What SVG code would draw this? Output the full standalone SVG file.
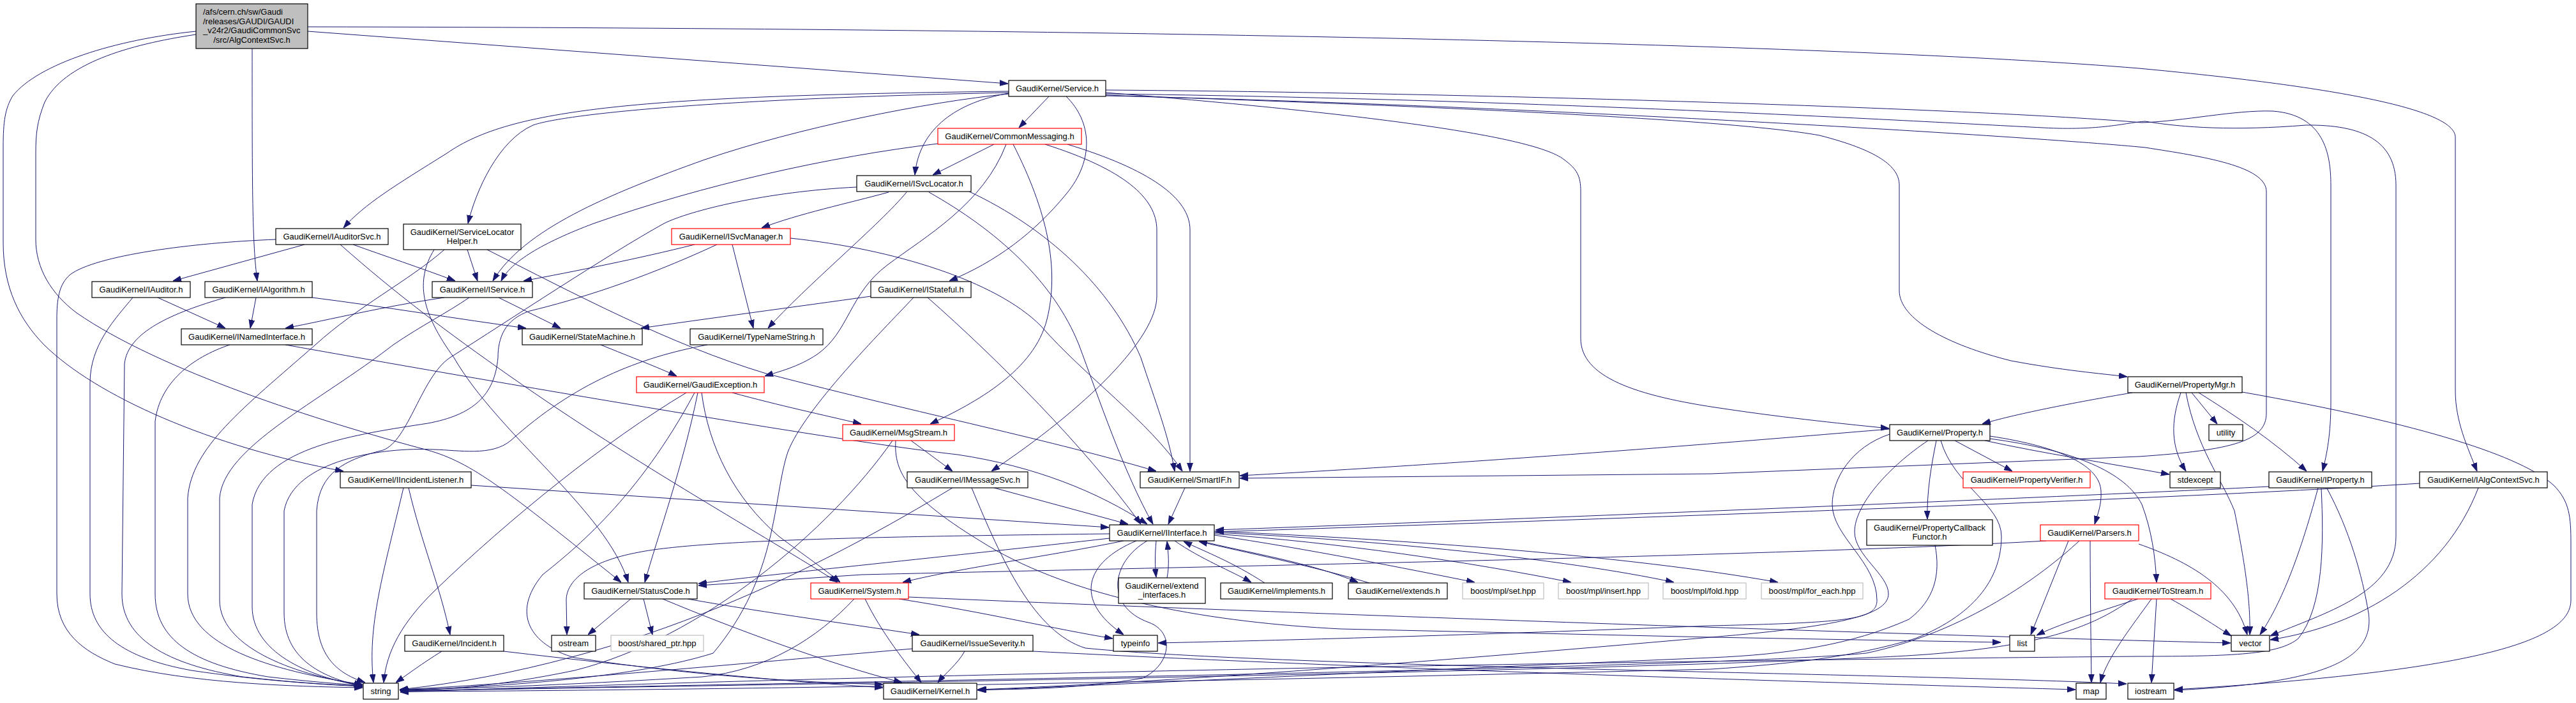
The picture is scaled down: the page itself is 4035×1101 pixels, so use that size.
<svg xmlns="http://www.w3.org/2000/svg" width="4035" height="1101" viewBox="0 0 4035 1101">
<style>
.n rect{fill:#fff;stroke:#000;stroke-width:1.2}
.r rect{fill:#fff;stroke:#ff0000;stroke-width:1.2}
.g rect{fill:#fff;stroke:#bfbfbf;stroke-width:1.2}
.root rect{fill:#bfbfbf;stroke:#000;stroke-width:1.2}
text{font-family:"Liberation Sans",Arial,Helvetica,sans-serif;font-size:13px;fill:#000;text-anchor:middle}
.e path{fill:none;stroke:#191970;stroke-width:1;marker-end:url(#ah)}
</style>
<defs>
<marker id="ah" markerWidth="13" markerHeight="10" refX="13" refY="5" orient="auto" markerUnits="userSpaceOnUse"><path d="M0,0.6 L13,5 L0,9.4 Z" fill="#191970" stroke="#191970" stroke-width="1"/></marker>
</defs>
<rect x="0" y="0" width="4035" height="1101" fill="#fff"/>
<g id="connectors" class="e">
<path d="M482,49 L1579,131"/>
<path d="M482,42 C1800,44 2900,70 3350,107 C3650,135 3846,170 3846,215 L3846,612 C3846,660 3865,700 3880,738"/>
<path d="M395,76 C395,300 395,380 403,440"/>
<path d="M307,49 C180,62 60,100 20,150 C8,170 5,190 5,230 L5,380 C5,450 30,500 69,540 C150,620 330,700 538,738"/>
<path d="M307,54 C200,70 100,100 70,160 C58,190 56,210 56,240 L56,375 C56,420 80,460 120,490 C250,580 500,660 670,705 C740,725 790,765 973,912"/>
<path d="M1643,151 L1596,200"/>
<path d="M1580,146 C1500,160 1440,200 1433,274"/>
<path d="M1670,151 C1710,190 1715,250 1670,304 C1620,365 1560,410 1487,440"/>
<path d="M1580,143 C1000,150 800,170 700,240 C620,290 570,320 538,357"/>
<path d="M1580,145 C1100,155 880,180 835,196 C780,220 745,300 733,350"/>
<path d="M1580,147 C1450,160 1250,200 1104,250 C950,305 820,360 772,440"/>
<path d="M1732,145 C2100,175 2400,210 2450,250 C2470,265 2476,275 2476,300 L2476,530 C2476,590 2560,620 2700,640 C2800,655 2900,665 2959,671"/>
<path d="M1732,149 C2200,165 2700,185 2850,212 C2940,235 2975,260 2975,290 L2975,455 C2975,500 3050,540 3150,565 C3230,580 3290,585 3332,590"/>
<path d="M1732,141 C2300,145 3100,170 3355,192 C3420,190 3500,172 3560,174 C3640,180 3651,240 3651,290 L3651,630 C3651,680 3645,710 3638,738"/>
<path d="M1732,147 C2400,155 3000,190 3200,200 C3290,205 3330,192 3360,190 C3420,200 3500,205 3612,196 C3700,195 3753,220 3753,290 L3753,840 C3753,930 3640,960 3556,996"/>
<path d="M1732,150 C2400,165 3200,215 3360,231 C3450,245 3550,260 3550,300 L3550,647 C3550,690 3500,705 3350,715 L2680,742 L1942,749"/>
<path d="M1557,226 L1461,274"/>
<path d="M1469,225 C1300,245 1100,290 930,350 C850,380 800,410 785,440"/>
<path d="M1587,226 C1640,330 1660,420 1640,500 C1620,580 1530,630 1457,664"/>
<path d="M1576,226 C1540,320 1450,370 1390,415 C1330,460 1330,520 1280,555 C1250,575 1220,582 1198,589"/>
<path d="M1637,226 C1760,265 1812,310 1812,360 L1812,464 C1812,530 1700,640 1553,738"/>
<path d="M1672,226 C1800,265 1864,310 1864,360 L1864,738"/>
<path d="M1392,301 C1330,318 1250,335 1193,357"/>
<path d="M1420,301 C1380,350 1260,450 1203,514"/>
<path d="M1455,301 C1560,360 1650,440 1690,540 C1720,620 1760,740 1806,821"/>
<path d="M1342,293 C1200,300 1080,330 1040,350 C950,400 800,500 705,560 C660,590 640,690 600,705 C540,720 500,740 496,800 L496,960 C496,1030 530,1055 572,1069"/>
<path d="M1518,300 C1640,357 1740,450 1787,560 C1810,630 1830,680 1840,738"/>
<path d="M477,383 L271,440"/>
<path d="M553,383 C600,400 660,420 713,440"/>
<path d="M432,375 C300,380 150,400 110,430 C92,445 89,470 89,500 L89,930 C89,990 130,1020 180,1040 C300,1070 450,1075 568,1077"/>
<path d="M533,383 C620,460 700,520 800,590 C1000,730 1200,840 1312,912"/>
<path d="M732,391 L748,440"/>
<path d="M696,391 C640,440 560,480 494,540 C380,640 300,700 294,780 L294,930 C294,1010 420,1050 568,1072"/>
<path d="M680,391 C650,440 660,490 711,560 C780,680 950,800 984,912"/>
<path d="M763,391 C900,460 1050,540 1200,585 C1450,650 1650,690 1811,738"/>
<path d="M1088,383 C1000,405 900,425 820,440"/>
<path d="M1123,383 C1000,440 900,470 830,487 C790,500 780,530 780,560 C775,620 740,650 670,663 C560,680 410,700 395,790 L395,950 C395,1020 480,1060 568,1074"/>
<path d="M1147,383 L1180,514"/>
<path d="M1238,373 C1400,390 1560,440 1630,510 C1700,590 1800,660 1852,738"/>
<path d="M247,466 L353,514"/>
<path d="M208,466 C180,500 141,540 141,600 L141,930 C141,990 190,1030 300,1050 C400,1065 500,1072 568,1075"/>
<path d="M401,466 L392,514"/>
<path d="M353,466 C270,490 200,520 195,570 L191,930 C191,1000 260,1040 380,1060 C470,1070 530,1073 568,1074"/>
<path d="M489,466 C600,480 720,500 824,514"/>
<path d="M696,466 C600,480 520,500 447,514"/>
<path d="M781,466 L878,514"/>
<path d="M735,466 C700,490 660,510 616,540 C500,630 350,700 344,780 L344,940 C344,1010 450,1055 568,1073"/>
<path d="M1364,464 C1250,480 1100,500 1004,514"/>
<path d="M1453,466 C1560,560 1700,700 1787,821"/>
<path d="M1431,466 C1380,520 1260,640 1234,708 C1210,780 1220,900 1117,1023 C1000,1060 800,1075 626,1081"/>
<path d="M360,540 C300,560 250,600 243,660 L243,930 C243,1000 300,1040 420,1060 C490,1068 540,1072 568,1073"/>
<path d="M447,540 C700,585 1300,690 1500,712 C1620,730 1720,770 1797,821"/>
<path d="M941,540 C990,560 1030,575 1060,589"/>
<path d="M1108,540 C1000,560 900,600 800,690 C770,715 720,705 680,704 C600,700 460,720 445,800 L445,960 C445,1030 500,1060 568,1075"/>
<path d="M1147,615 C1220,635 1290,650 1349,664"/>
<path d="M1093,615 C1070,730 1030,840 1010,912"/>
<path d="M1099,615 C1110,700 1150,780 1220,840 C1260,870 1290,890 1316,912"/>
<path d="M1075,615 C950,690 800,810 680,926 C630,975 605,1020 601,1069"/>
<path d="M1088,615 C1000,780 900,860 850,900 C800,960 830,1010 900,1030 C1100,1060 1250,1068 1383,1072"/>
<path d="M1427,690 L1492,738"/>
<path d="M1398,690 C1300,830 1100,1000 900,1050 C780,1075 700,1080 626,1081"/>
<path d="M1403,690 C1400,740 1420,780 1560,862 C1700,940 1900,975 2100,985 L2680,998 L3134,1006"/>
<path d="M632,764 C600,900 575,980 585,1069"/>
<path d="M640,764 C660,850 690,920 705,994"/>
<path d="M738,760 L1737,826"/>
<path d="M1557,764 L1767,821"/>
<path d="M1492,764 C1300,880 1000,1040 626,1080"/>
<path d="M1522,764 C1570,880 1620,990 1700,1015 C2000,1045 3000,1055 3331,1071"/>
<path d="M1856,764 L1830,821"/>
<path d="M1811,847 C1809,870 1809,885 1811,904"/>
<path d="M1828,905 C1832,885 1830,865 1828,848"/>
<path d="M1840,847 C1880,875 1930,895 1960,912"/>
<path d="M1981,913 C1930,880 1890,865 1854,848"/>
<path d="M1880,847 C1950,865 2050,880 2127,912"/>
<path d="M2145,913 C2050,885 1950,865 1878,848"/>
<path d="M1902,838 C2050,860 2200,890 2310,912"/>
<path d="M1902,836 C2100,850 2300,880 2461,912"/>
<path d="M1902,834 C2150,845 2450,875 2622,912"/>
<path d="M1902,832 C2200,845 2550,870 2785,912"/>
<path d="M1780,847 C1700,880 1680,940 1760,994"/>
<path d="M1797,847 C1740,880 1730,950 1800,975 C1840,990 1835,1040 1790,1062 C1700,1078 1600,1080 1532,1080"/>
<path d="M1760,847 C1650,870 1500,890 1414,912"/>
<path d="M1738,843 C1500,870 1200,900 1094,914"/>
<path d="M1738,836 C1400,840 1100,845 1000,865 C920,880 887,910 887,940 L888,994"/>
<path d="M3554,762 C3300,775 2600,805 1904,830"/>
<path d="M3790,757 C3400,782 2600,810 1904,833"/>
<path d="M988,938 L921,994"/>
<path d="M1008,938 L1022,994"/>
<path d="M1077,938 C1200,960 1350,980 1440,994"/>
<path d="M1038,938 C1150,985 1300,1040 1413,1069"/>
<path d="M1355,938 C1380,990 1420,1040 1443,1069"/>
<path d="M1408,938 C1550,960 1650,985 1743,1000"/>
<path d="M1423,935 C2000,960 3000,995 3494,1007"/>
<path d="M1338,938 C1280,1000 1200,1050 1100,1060 C900,1072 750,1078 626,1080"/>
<path d="M1511,1020 C1500,1040 1480,1055 1469,1069"/>
<path d="M1618,1020 C2200,1050 2900,1070 3251,1080"/>
<path d="M1429,1016 C1100,1045 800,1072 626,1080"/>
<path d="M692,1020 C660,1040 640,1055 620,1069"/>
<path d="M789,1020 C1000,1045 1200,1065 1383,1077"/>
<path d="M2960,672 C2800,685 2400,720 1942,745"/>
<path d="M2960,680 C2900,700 2870,750 2870,790 C2870,840 2940,880 2940,940 C2940,970 2900,975 2680,980 C2300,995 2000,1003 1814,1007"/>
<path d="M3020,690 C2960,730 2905,790 2905,833 C2905,870 2958,900 2958,930 C2958,960 2900,980 2680,998 C2200,1040 1800,1070 1531,1080"/>
<path d="M3033,690 C3025,730 3018,770 3019,813"/>
<path d="M3040,690 C3060,760 3135,790 3135,840 C3135,900 3100,960 3000,1000 C2900,1030 2800,1040 2680,1048 C1800,1070 1000,1082 627,1083"/>
<path d="M3062,690 L3152,738"/>
<path d="M3109,690 C3200,710 3300,725 3398,743"/>
<path d="M3117,683 C3230,700 3290,730 3291,770 C3292,790 3286,805 3281,821"/>
<path d="M3117,687 C3250,705 3330,740 3355,790 C3370,830 3376,870 3378,912"/>
<path d="M3340,615 C3250,630 3150,650 3105,664"/>
<path d="M3416,615 C3400,660 3400,700 3424,738"/>
<path d="M3424,615 C3440,700 3480,750 3500,800 C3520,900 3525,950 3524,994"/>
<path d="M3433,615 L3473,664"/>
<path d="M3444,615 C3500,650 3560,690 3613,738"/>
<path d="M3512,614 C3800,665 3950,715 4000,760 C4025,785 4027,810 4027,850 L4027,940 C4027,1000 3900,1050 3406,1080"/>
<path d="M3631,764 C3600,880 3570,950 3540,994"/>
<path d="M3636,765 C3640,850 3640,950 3600,1000 C3570,1025 3500,1028 3350,1028 C2000,1040 1000,1070 627,1084"/>
<path d="M3645,765 C3680,830 3700,900 3710,960 C3720,1030 3650,1070 3406,1081"/>
<path d="M3882,764 C3830,900 3700,980 3556,1002"/>
<path d="M3031,854 C3040,900 3030,940 2990,970 C2900,1010 2800,1025 2680,1030 C2200,1050 1800,1070 1531,1081"/>
<path d="M3205,847 C2800,870 2000,885 1350,900 L1094,917"/>
<path d="M3240,847 L3181,994"/>
<path d="M3274,847 C3274,900 3275,1000 3276,1069"/>
<path d="M3350,852 C3430,880 3500,920 3520,994"/>
<path d="M3257,847 C3200,900 3080,990 2923,1023 C2700,1045 1500,1065 627,1082"/>
<path d="M3349,938 C3280,960 3220,980 3190,995"/>
<path d="M3370,938 C3340,980 3300,1030 3290,1069"/>
<path d="M3378,938 L3370,1069"/>
<path d="M3400,938 C3440,960 3470,980 3495,996"/>
<path d="M3340,938 C3280,980 3200,1020 2923,1030 C2500,1050 1500,1068 627,1082"/>
</g>
<g id="node-root" class="root"><rect x="307" y="6" width="175" height="70"/>
<text x="318" y="23" style="text-anchor:start">/afs/cern.ch/sw/Gaudi</text>
<text x="318" y="37.5" style="text-anchor:start">/releases/GAUDI/GAUDI</text>
<text x="318" y="52" style="text-anchor:start">_v24r2/GaudiCommonSvc</text>
<text x="394.5" y="67">/src/AlgContextSvc.h</text></g>
<g id="node-Service" class="n"><rect x="1580" y="126" width="152" height="25"/><text x="1656" y="143">GaudiKernel/Service.h</text></g>
<g id="node-CommonMessaging" class="r"><rect x="1469" y="201" width="225" height="25"/><text x="1581.5" y="218">GaudiKernel/CommonMessaging.h</text></g>
<g id="node-ISvcLocator" class="n"><rect x="1342" y="275" width="179" height="25"/><text x="1431.5" y="292">GaudiKernel/ISvcLocator.h</text></g>
<g id="node-IAuditorSvc" class="n"><rect x="432" y="358" width="176" height="25"/><text x="520" y="375">GaudiKernel/IAuditorSvc.h</text></g>
<g id="node-ServiceLocatorHelper" class="n"><rect x="632" y="351" width="184" height="40"/><text x="724" y="368">GaudiKernel/ServiceLocator</text><text x="724" y="382">Helper.h</text></g>
<g id="node-ISvcManager" class="r"><rect x="1052" y="358" width="186" height="25"/><text x="1145" y="375">GaudiKernel/ISvcManager.h</text></g>
<g id="node-IAuditor" class="n"><rect x="144" y="441" width="154" height="25"/><text x="221" y="458">GaudiKernel/IAuditor.h</text></g>
<g id="node-IAlgorithm" class="n"><rect x="321" y="441" width="168" height="25"/><text x="405" y="458">GaudiKernel/IAlgorithm.h</text></g>
<g id="node-IService" class="n"><rect x="677" y="441" width="157" height="25"/><text x="755.5" y="458">GaudiKernel/IService.h</text></g>
<g id="node-IStateful" class="n"><rect x="1364" y="441" width="157" height="25"/><text x="1442.5" y="458">GaudiKernel/IStateful.h</text></g>
<g id="node-INamedInterface" class="n"><rect x="284" y="515" width="205" height="25"/><text x="386.5" y="532">GaudiKernel/INamedInterface.h</text></g>
<g id="node-StateMachine" class="n"><rect x="818" y="515" width="188" height="25"/><text x="912" y="532">GaudiKernel/StateMachine.h</text></g>
<g id="node-TypeNameString" class="n"><rect x="1081" y="515" width="208" height="25"/><text x="1185" y="532">GaudiKernel/TypeNameString.h</text></g>
<g id="node-GaudiException" class="r"><rect x="997" y="590" width="200" height="25"/><text x="1097" y="607">GaudiKernel/GaudiException.h</text></g>
<g id="node-PropertyMgr" class="n"><rect x="3333" y="590" width="179" height="25"/><text x="3422.5" y="607">GaudiKernel/PropertyMgr.h</text></g>
<g id="node-MsgStream" class="r"><rect x="1320" y="665" width="175" height="25"/><text x="1407.5" y="682">GaudiKernel/MsgStream.h</text></g>
<g id="node-Property" class="n"><rect x="2960" y="665" width="157" height="25"/><text x="3038.5" y="682">GaudiKernel/Property.h</text></g>
<g id="node-utility" class="n"><rect x="3460" y="665" width="53" height="25"/><text x="3486.5" y="682">utility</text></g>
<g id="node-IIncidentListener" class="n"><rect x="533" y="739" width="205" height="25"/><text x="635.5" y="756">GaudiKernel/IIncidentListener.h</text></g>
<g id="node-IMessageSvc" class="n"><rect x="1421" y="739" width="189" height="25"/><text x="1515.5" y="756">GaudiKernel/IMessageSvc.h</text></g>
<g id="node-SmartIF" class="n"><rect x="1786" y="739" width="155" height="25"/><text x="1863.5" y="756">GaudiKernel/SmartIF.h</text></g>
<g id="node-PropertyVerifier" class="r"><rect x="3075" y="739" width="199" height="25"/><text x="3174.5" y="756">GaudiKernel/PropertyVerifier.h</text></g>
<g id="node-stdexcept" class="n"><rect x="3399" y="739" width="79" height="25"/><text x="3438.5" y="756">stdexcept</text></g>
<g id="node-IProperty" class="n"><rect x="3554" y="739" width="161" height="25"/><text x="3634.5" y="756">GaudiKernel/IProperty.h</text></g>
<g id="node-IAlgContextSvc" class="n"><rect x="3790" y="739" width="200" height="25"/><text x="3890" y="756">GaudiKernel/IAlgContextSvc.h</text></g>
<g id="node-IInterface" class="n"><rect x="1738" y="822" width="164" height="25"/><text x="1820" y="839">GaudiKernel/IInterface.h</text></g>
<g id="node-PropertyCallbackFunctor" class="n"><rect x="2924" y="814" width="197" height="40"/><text x="3022.5" y="831">GaudiKernel/PropertyCallback</text><text x="3022.5" y="845">Functor.h</text></g>
<g id="node-Parsers" class="r"><rect x="3196" y="822" width="154" height="25"/><text x="3273" y="839">GaudiKernel/Parsers.h</text></g>
<g id="node-StatusCode" class="n"><rect x="915" y="913" width="177" height="25"/><text x="1003.5" y="930">GaudiKernel/StatusCode.h</text></g>
<g id="node-System" class="r"><rect x="1270" y="913" width="153" height="25"/><text x="1346.5" y="930">GaudiKernel/System.h</text></g>
<g id="node-extend_interfaces" class="n"><rect x="1752" y="905" width="136" height="40"/><text x="1820" y="922">GaudiKernel/extend</text><text x="1820" y="936">_interfaces.h</text></g>
<g id="node-implements" class="n"><rect x="1912" y="913" width="175" height="25"/><text x="1999.5" y="930">GaudiKernel/implements.h</text></g>
<g id="node-extends" class="n"><rect x="2112" y="913" width="155" height="25"/><text x="2189.5" y="930">GaudiKernel/extends.h</text></g>
<g id="node-set" class="g"><rect x="2291" y="913" width="127" height="25"/><text x="2354.5" y="930">boost/mpl/set.hpp</text></g>
<g id="node-insert" class="g"><rect x="2441" y="913" width="141" height="25"/><text x="2511.5" y="930">boost/mpl/insert.hpp</text></g>
<g id="node-fold" class="g"><rect x="2605" y="913" width="130" height="25"/><text x="2670" y="930">boost/mpl/fold.hpp</text></g>
<g id="node-for_each" class="g"><rect x="2759" y="913" width="159" height="25"/><text x="2838.5" y="930">boost/mpl/for_each.hpp</text></g>
<g id="node-ToStream" class="r"><rect x="3297" y="913" width="166" height="25"/><text x="3380" y="930">GaudiKernel/ToStream.h</text></g>
<g id="node-Incident" class="n"><rect x="634" y="995" width="155" height="25"/><text x="711.5" y="1012">GaudiKernel/Incident.h</text></g>
<g id="node-ostream" class="n"><rect x="864" y="995" width="69" height="25"/><text x="898.5" y="1012">ostream</text></g>
<g id="node-shared_ptr" class="g"><rect x="957" y="995" width="145" height="25"/><text x="1029.5" y="1012">boost/shared_ptr.hpp</text></g>
<g id="node-IssueSeverity" class="n"><rect x="1429" y="995" width="189" height="25"/><text x="1523.5" y="1012">GaudiKernel/IssueSeverity.h</text></g>
<g id="node-typeinfo" class="n"><rect x="1744" y="995" width="69" height="25"/><text x="1778.5" y="1012">typeinfo</text></g>
<g id="node-list" class="n"><rect x="3148" y="995" width="39" height="25"/><text x="3167.5" y="1012">list</text></g>
<g id="node-vector" class="n"><rect x="3495" y="995" width="60" height="25"/><text x="3525" y="1012">vector</text></g>
<g id="node-string" class="n"><rect x="569" y="1070" width="55" height="25"/><text x="596.5" y="1087">string</text></g>
<g id="node-Kernel" class="n"><rect x="1384" y="1070" width="146" height="25"/><text x="1457" y="1087">GaudiKernel/Kernel.h</text></g>
<g id="node-map" class="n"><rect x="3252" y="1070" width="47" height="25"/><text x="3275.5" y="1087">map</text></g>
<g id="node-iostream" class="n"><rect x="3333" y="1070" width="72" height="25"/><text x="3369" y="1087">iostream</text></g>
</svg>
